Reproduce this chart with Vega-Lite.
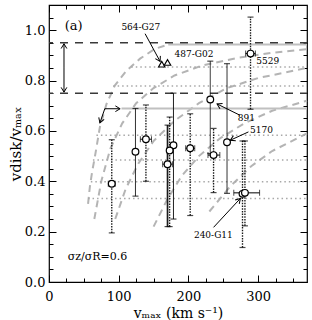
{
  "$schema": "https://vega.github.io/schema/vega-lite/v6.json",
  "width": 258,
  "height": 277,
  "autosize": "none",
  "padding": {"left": 49, "top": 5, "right": 5, "bottom": 38},
  "background": "white",
  "config": {
    "view": {"stroke": "black", "strokeWidth": 1.2},
    "axis": {"labelFont": "DejaVu Serif", "titleFont": "DejaVu Serif", "labelColor": "black", "titleColor": "black", "tickColor": "black", "tickWidth": 1, "domain": false, "grid": false, "titleFontWeight": "normal"},
    "text": {"font": "DejaVu Serif"},
    "point": {"shape": "M-0.6,1L0,0L0.6,1", "filled": false, "stroke": "black", "strokeWidth": 1, "size": 90, "opacity": 1}
  },
  "datasets": {
    "curves": [
      {"c": 1, "x": 56, "y": 0.31}, {"c": 1, "x": 58.6, "y": 0.378}, {"c": 1, "x": 62, "y": 0.44}, {"c": 1, "x": 65.8, "y": 0.497}, {"c": 1, "x": 73, "y": 0.616}, {"c": 1, "x": 82.6, "y": 0.708}, {"c": 1, "x": 94.6, "y": 0.781}, {"c": 1, "x": 111.4, "y": 0.84}, {"c": 1, "x": 130.6, "y": 0.887}, {"c": 1, "x": 152, "y": 0.926}, {"c": 1, "x": 171, "y": 0.943},
      {"c": 2, "x": 65, "y": 0.25}, {"c": 2, "x": 75, "y": 0.4}, {"c": 2, "x": 88, "y": 0.53}, {"c": 2, "x": 105, "y": 0.63}, {"c": 2, "x": 125, "y": 0.71}, {"c": 2, "x": 150, "y": 0.77}, {"c": 2, "x": 180, "y": 0.82}, {"c": 2, "x": 220, "y": 0.86}, {"c": 2, "x": 270, "y": 0.89}, {"c": 2, "x": 320, "y": 0.91}, {"c": 2, "x": 370, "y": 0.925},
      {"c": 3, "x": 95, "y": 0.25}, {"c": 3, "x": 110, "y": 0.37}, {"c": 3, "x": 128, "y": 0.47}, {"c": 3, "x": 150, "y": 0.56}, {"c": 3, "x": 180, "y": 0.64}, {"c": 3, "x": 215, "y": 0.71}, {"c": 3, "x": 255, "y": 0.77}, {"c": 3, "x": 300, "y": 0.81}, {"c": 3, "x": 370, "y": 0.85},
      {"c": 4, "x": 150, "y": 0.22}, {"c": 4, "x": 170, "y": 0.33}, {"c": 4, "x": 190, "y": 0.42}, {"c": 4, "x": 215, "y": 0.5}, {"c": 4, "x": 245, "y": 0.57}, {"c": 4, "x": 280, "y": 0.63}, {"c": 4, "x": 320, "y": 0.68}, {"c": 4, "x": 370, "y": 0.72},
      {"c": 5, "x": 230, "y": 0.28}, {"c": 5, "x": 260, "y": 0.38}, {"c": 5, "x": 290, "y": 0.46}, {"c": 5, "x": 320, "y": 0.52}, {"c": 5, "x": 370, "y": 0.59}
    ],
    "hl": [
      {"k": "grey", "x1": 171, "x2": 370, "y": 0.943},
      {"k": "grey", "x1": 104, "x2": 370, "y": 0.689},
      {"k": "dot", "x1": 118, "x2": 370, "y": 0.854},
      {"k": "dot", "x1": 92, "x2": 370, "y": 0.778},
      {"k": "dot", "x1": 68, "x2": 370, "y": 0.583},
      {"k": "dot", "x1": 63, "x2": 370, "y": 0.484},
      {"k": "dot", "x1": 60, "x2": 370, "y": 0.398},
      {"k": "dot", "x1": 56, "x2": 370, "y": 0.332},
      {"k": "dash", "x1": 0, "x2": 370, "y": 0.95},
      {"k": "dash", "x1": 0, "x2": 370, "y": 0.75}
    ],
    "pts": [
      {"id": "A", "x": 90, "y": 0.39, "ylo": 0.195, "yhi": 0.565, "xlo": 85, "xhi": 95, "s": "dot"},
      {"id": "B", "x": 124, "y": 0.517, "ylo": 0.341, "yhi": 0.689, "s": "solid"},
      {"id": "C", "x": 139, "y": 0.567, "ylo": 0.4, "yhi": 0.703, "xlo": 131, "xhi": 147, "s": "dot"},
      {"id": "D", "x": 178.5, "y": 0.543, "ylo": 0.25, "yhi": 0.75, "s": "solid"},
      {"id": "E", "x": 173, "y": 0.522, "ylo": 0.22, "yhi": 0.655, "s": "dot"},
      {"id": "F", "x": 170, "y": 0.468, "ylo": 0.22, "yhi": 0.623, "xlo": 163, "xhi": 177, "s": "thick"},
      {"id": "G", "x": 202.5, "y": 0.531, "ylo": 0.264, "yhi": 0.668, "xlo": 196, "xhi": 209, "s": "dot"},
      {"id": "891", "x": 231.3, "y": 0.725, "ylo": 0.51, "yhi": 0.877, "s": "solid"},
      {"id": "I", "x": 236, "y": 0.504, "ylo": 0.355, "yhi": 0.61, "xlo": 228, "xhi": 245, "s": "dot"},
      {"id": "5170", "x": 255.3, "y": 0.555, "ylo": 0.352, "yhi": 0.867, "s": "solid"},
      {"id": "K2", "x": 277.5, "y": 0.35, "ylo": 0.137, "yhi": 0.56, "s": "dot"},
      {"id": "240-G11", "x": 281, "y": 0.354, "ylo": 0.223, "yhi": 0.56, "xlo": 265, "xhi": 302, "s": "dot"},
      {"id": "5529", "x": 289, "y": 0.907, "ylo": 0.686, "yhi": 1.052, "xlo": 282, "xhi": 296, "s": "dot"}
    ],
    "tri": [
      {"id": "564-G27", "x": 161.7, "y": 0.865},
      {"id": "487-G02", "x": 170, "y": 0.872}
    ],
    "arr": [
      {"id": "a564", "x1": 137.8, "y1": 0.986, "x2": 159.3, "y2": 0.876},
      {"id": "a891", "x1": 274, "y1": 0.662, "x2": 241, "y2": 0.707},
      {"id": "a5170", "x1": 286, "y1": 0.596, "x2": 260, "y2": 0.563},
      {"id": "a240", "x1": 236, "y1": 0.217, "x2": 274.5, "y2": 0.332},
      {"id": "bendV", "x1": 80, "y1": 0.688, "x2": 73, "y2": 0.632},
      {"id": "bendH", "x1": 80, "y1": 0.688, "x2": 102, "y2": 0.688},
      {"id": "up", "x1": 21.5, "y1": 0.85, "x2": 21.5, "y2": 0.946},
      {"id": "down", "x1": 21.5, "y1": 0.85, "x2": 21.5, "y2": 0.754}
    ],
    "lab": [
      {"t": "564-G27", "x": 131.7, "y": 1.012},
      {"t": "487-G02", "x": 208, "y": 0.906},
      {"t": "5529", "x": 313.7, "y": 0.877},
      {"t": "891", "x": 283, "y": 0.65},
      {"t": "5170", "x": 304.7, "y": 0.603},
      {"t": "240-G11", "x": 235.7, "y": 0.187}
    ],
    "big": [
      {"t": "(a)", "x": 35.5, "y": 1.015, "f": "a"},
      {"t": "σz/σR=0.6", "x": 69.4, "y": 0.1, "f": "s"}
    ],
    "one": [{"x": 0, "y": 0}]
  },
  "resolve": {"axis": {"x": "independent", "y": "independent"}},
  "layer": [
    {
      "layer": [
        {
          "data": {"name": "curves"},
          "mark": {"type": "line", "color": "#b4b4b4", "strokeWidth": 2, "strokeDash": [7, 5]},
          "encoding": {
            "x": {"field": "x", "type": "quantitative", "scale": {"domain": [0, 370], "nice": false, "zero": false},
              "axis": {"orient": "bottom", "values": [0, 100, 200, 300], "tickSize": -7, "labelPadding": 15, "labelFontSize": 13, "labelFlush": false, "format": "d", "title": "vₘₐₓ (km s⁻¹)", "titleFontSize": 14, "titlePadding": 3}},
            "y": {"field": "y", "type": "quantitative", "scale": {"domain": [0, 1.1], "nice": false, "zero": false},
              "axis": {"orient": "left", "values": [0, 0.2, 0.4, 0.6, 0.8, 1.0], "tickSize": -7, "labelPadding": 11, "labelFontSize": 13, "labelFlush": false, "format": ".1f", "title": "vdisk/vₘₐₓ", "titleFontSize": 15, "titlePadding": 1}},
            "detail": {"field": "c", "type": "nominal"}
          }
        },
        {
          "data": {"name": "hl"},
          "transform": [{"filter": "datum.k == 'grey'"}],
          "mark": {"type": "rule", "color": "#c0c0c0", "strokeWidth": 2},
          "encoding": {"x": {"field": "x1", "type": "quantitative"}, "x2": {"field": "x2"}, "y": {"field": "y", "type": "quantitative"}}
        },
        {
          "data": {"name": "hl"},
          "transform": [{"filter": "datum.k == 'dot'"}],
          "mark": {"type": "rule", "color": "#a8a8a8", "strokeWidth": 1.5, "strokeDash": [1.5, 3]},
          "encoding": {"x": {"field": "x1", "type": "quantitative"}, "x2": {"field": "x2"}, "y": {"field": "y", "type": "quantitative"}}
        },
        {
          "data": {"name": "hl"},
          "transform": [{"filter": "datum.k == 'dash'"}],
          "mark": {"type": "rule", "color": "#3a3a3a", "strokeWidth": 1.5, "strokeDash": [8, 7], "strokeDashOffset": 4},
          "encoding": {"x": {"field": "x1", "type": "quantitative"}, "x2": {"field": "x2"}, "y": {"field": "y", "type": "quantitative"}}
        },
        {
          "data": {"name": "pts"},
          "mark": {"type": "rule", "color": "#1a1a1a"},
          "encoding": {
            "x": {"field": "x", "type": "quantitative"},
            "y": {"field": "ylo", "type": "quantitative"},
            "y2": {"field": "yhi"},
            "strokeWidth": {"field": "s", "type": "nominal", "scale": {"domain": ["solid", "dot", "thick"], "range": [1, 1.7, 2.3]}, "legend": null},
            "strokeDash": {"field": "s", "type": "nominal", "scale": {"domain": ["solid", "dot", "thick"], "range": [[1, 0], [1.5, 1.2], [1, 0]]}, "legend": null}
          }
        },
        {
          "data": {"name": "pts"},
          "mark": {"type": "tick", "orient": "horizontal", "color": "black", "size": 6, "thickness": 1.2},
          "encoding": {"x": {"field": "x", "type": "quantitative"}, "y": {"field": "ylo", "type": "quantitative"}}
        },
        {
          "data": {"name": "pts"},
          "mark": {"type": "tick", "orient": "horizontal", "color": "black", "size": 6, "thickness": 1.2},
          "encoding": {"x": {"field": "x", "type": "quantitative"}, "y": {"field": "yhi", "type": "quantitative"}}
        },
        {
          "data": {"name": "pts"},
          "transform": [{"filter": "isValid(datum.xlo)"}],
          "mark": {"type": "rule", "color": "black", "strokeWidth": 1},
          "encoding": {"x": {"field": "xlo", "type": "quantitative"}, "x2": {"field": "xhi"}, "y": {"field": "y", "type": "quantitative"}}
        },
        {
          "data": {"name": "pts"},
          "transform": [{"filter": "isValid(datum.xlo)"}],
          "mark": {"type": "tick", "orient": "vertical", "color": "black", "size": 6, "thickness": 1},
          "encoding": {"x": {"field": "xlo", "type": "quantitative"}, "y": {"field": "y", "type": "quantitative"}}
        },
        {
          "data": {"name": "pts"},
          "transform": [{"filter": "isValid(datum.xlo)"}],
          "mark": {"type": "tick", "orient": "vertical", "color": "black", "size": 6, "thickness": 1},
          "encoding": {"x": {"field": "xhi", "type": "quantitative"}, "y": {"field": "y", "type": "quantitative"}}
        },
        {
          "data": {"name": "pts"},
          "mark": {"type": "point", "shape": "circle", "filled": true, "fill": "white", "stroke": "black", "strokeWidth": 1.2, "size": 45, "opacity": 1},
          "encoding": {"x": {"field": "x", "type": "quantitative"}, "y": {"field": "y", "type": "quantitative"}}
        },
        {
          "data": {"name": "tri"},
          "mark": {"type": "point", "shape": "triangle-up", "filled": true, "fill": "white", "stroke": "black", "strokeWidth": 1.1, "size": 42, "opacity": 1},
          "encoding": {"x": {"field": "x", "type": "quantitative"}, "y": {"field": "y", "type": "quantitative"}}
        },
        {
          "data": {"name": "arr"},
          "mark": {"type": "rule", "color": "black", "strokeWidth": 1},
          "encoding": {"x": {"field": "x1", "type": "quantitative"}, "x2": {"field": "x2"}, "y": {"field": "y1", "type": "quantitative"}, "y2": {"field": "y2"}}
        },
        {"data": {"name": "arr"}, "transform": [{"filter": "datum.id == 'a564'"}], "mark": {"type": "point", "angle": 152}, "encoding": {"x": {"field": "x2", "type": "quantitative"}, "y": {"field": "y2", "type": "quantitative"}}},
        {"data": {"name": "arr"}, "transform": [{"filter": "datum.id == 'a891'"}], "mark": {"type": "point", "angle": 297}, "encoding": {"x": {"field": "x2", "type": "quantitative"}, "y": {"field": "y2", "type": "quantitative"}}},
        {"data": {"name": "arr"}, "transform": [{"filter": "datum.id == 'a5170'"}], "mark": {"type": "point", "angle": 245}, "encoding": {"x": {"field": "x2", "type": "quantitative"}, "y": {"field": "y2", "type": "quantitative"}}},
        {"data": {"name": "arr"}, "transform": [{"filter": "datum.id == 'a240'"}], "mark": {"type": "point", "angle": 43}, "encoding": {"x": {"field": "x2", "type": "quantitative"}, "y": {"field": "y2", "type": "quantitative"}}},
        {"data": {"name": "arr"}, "transform": [{"filter": "datum.id == 'bendV'"}], "mark": {"type": "point", "angle": 199}, "encoding": {"x": {"field": "x2", "type": "quantitative"}, "y": {"field": "y2", "type": "quantitative"}}},
        {"data": {"name": "arr"}, "transform": [{"filter": "datum.id == 'bendH'"}], "mark": {"type": "point", "angle": 90}, "encoding": {"x": {"field": "x2", "type": "quantitative"}, "y": {"field": "y2", "type": "quantitative"}}},
        {"data": {"name": "arr"}, "transform": [{"filter": "datum.id == 'up'"}], "mark": {"type": "point", "angle": 0}, "encoding": {"x": {"field": "x2", "type": "quantitative"}, "y": {"field": "y2", "type": "quantitative"}}},
        {"data": {"name": "arr"}, "transform": [{"filter": "datum.id == 'down'"}], "mark": {"type": "point", "angle": 180}, "encoding": {"x": {"field": "x2", "type": "quantitative"}, "y": {"field": "y2", "type": "quantitative"}}},
        {
          "data": {"name": "lab"},
          "mark": {"type": "text", "fontSize": 9, "color": "black", "align": "center", "baseline": "middle"},
          "encoding": {"x": {"field": "x", "type": "quantitative"}, "y": {"field": "y", "type": "quantitative"}, "text": {"field": "t"}}
        },
        {
          "data": {"name": "big"},
          "mark": {"type": "text", "color": "black", "align": "center", "baseline": "middle"},
          "encoding": {"x": {"field": "x", "type": "quantitative"}, "y": {"field": "y", "type": "quantitative"}, "text": {"field": "t"},
            "size": {"field": "f", "type": "nominal", "scale": {"domain": ["a", "s"], "range": [13, 11]}, "legend": null}}
        }
      ]
    },
    {
      "data": {"name": "one"},
      "mark": {"type": "point", "opacity": 0},
      "encoding": {
        "x": {"field": "x", "type": "quantitative", "axis": {"orient": "bottom", "values": [25, 50, 75, 125, 150, 175, 225, 250, 275, 325, 350], "tickSize": -4, "labels": false, "title": null}},
        "y": {"field": "y", "type": "quantitative", "axis": {"orient": "left", "values": [0.05, 0.1, 0.15, 0.25, 0.3, 0.35, 0.45, 0.5, 0.55, 0.65, 0.7, 0.75, 0.85, 0.9, 0.95, 1.05], "tickSize": -4, "labels": false, "title": null}}
      }
    },
    {
      "data": {"name": "one"},
      "mark": {"type": "point", "opacity": 0},
      "encoding": {
        "x": {"field": "x", "type": "quantitative", "axis": {"orient": "top", "values": [0, 100, 200, 300], "tickSize": -7, "labels": false, "title": null}},
        "y": {"field": "y", "type": "quantitative", "axis": {"orient": "right", "values": [0, 0.2, 0.4, 0.6, 0.8, 1.0], "tickSize": -7, "labels": false, "title": null}}
      }
    },
    {
      "data": {"name": "one"},
      "mark": {"type": "point", "opacity": 0},
      "encoding": {
        "x": {"field": "x", "type": "quantitative", "axis": {"orient": "top", "values": [25, 50, 75, 125, 150, 175, 225, 250, 275, 325, 350], "tickSize": -4, "labels": false, "title": null}},
        "y": {"field": "y", "type": "quantitative", "axis": {"orient": "right", "values": [0.05, 0.1, 0.15, 0.25, 0.3, 0.35, 0.45, 0.5, 0.55, 0.65, 0.7, 0.75, 0.85, 0.9, 0.95, 1.05], "tickSize": -4, "labels": false, "title": null}}
      }
    }
  ]
}
